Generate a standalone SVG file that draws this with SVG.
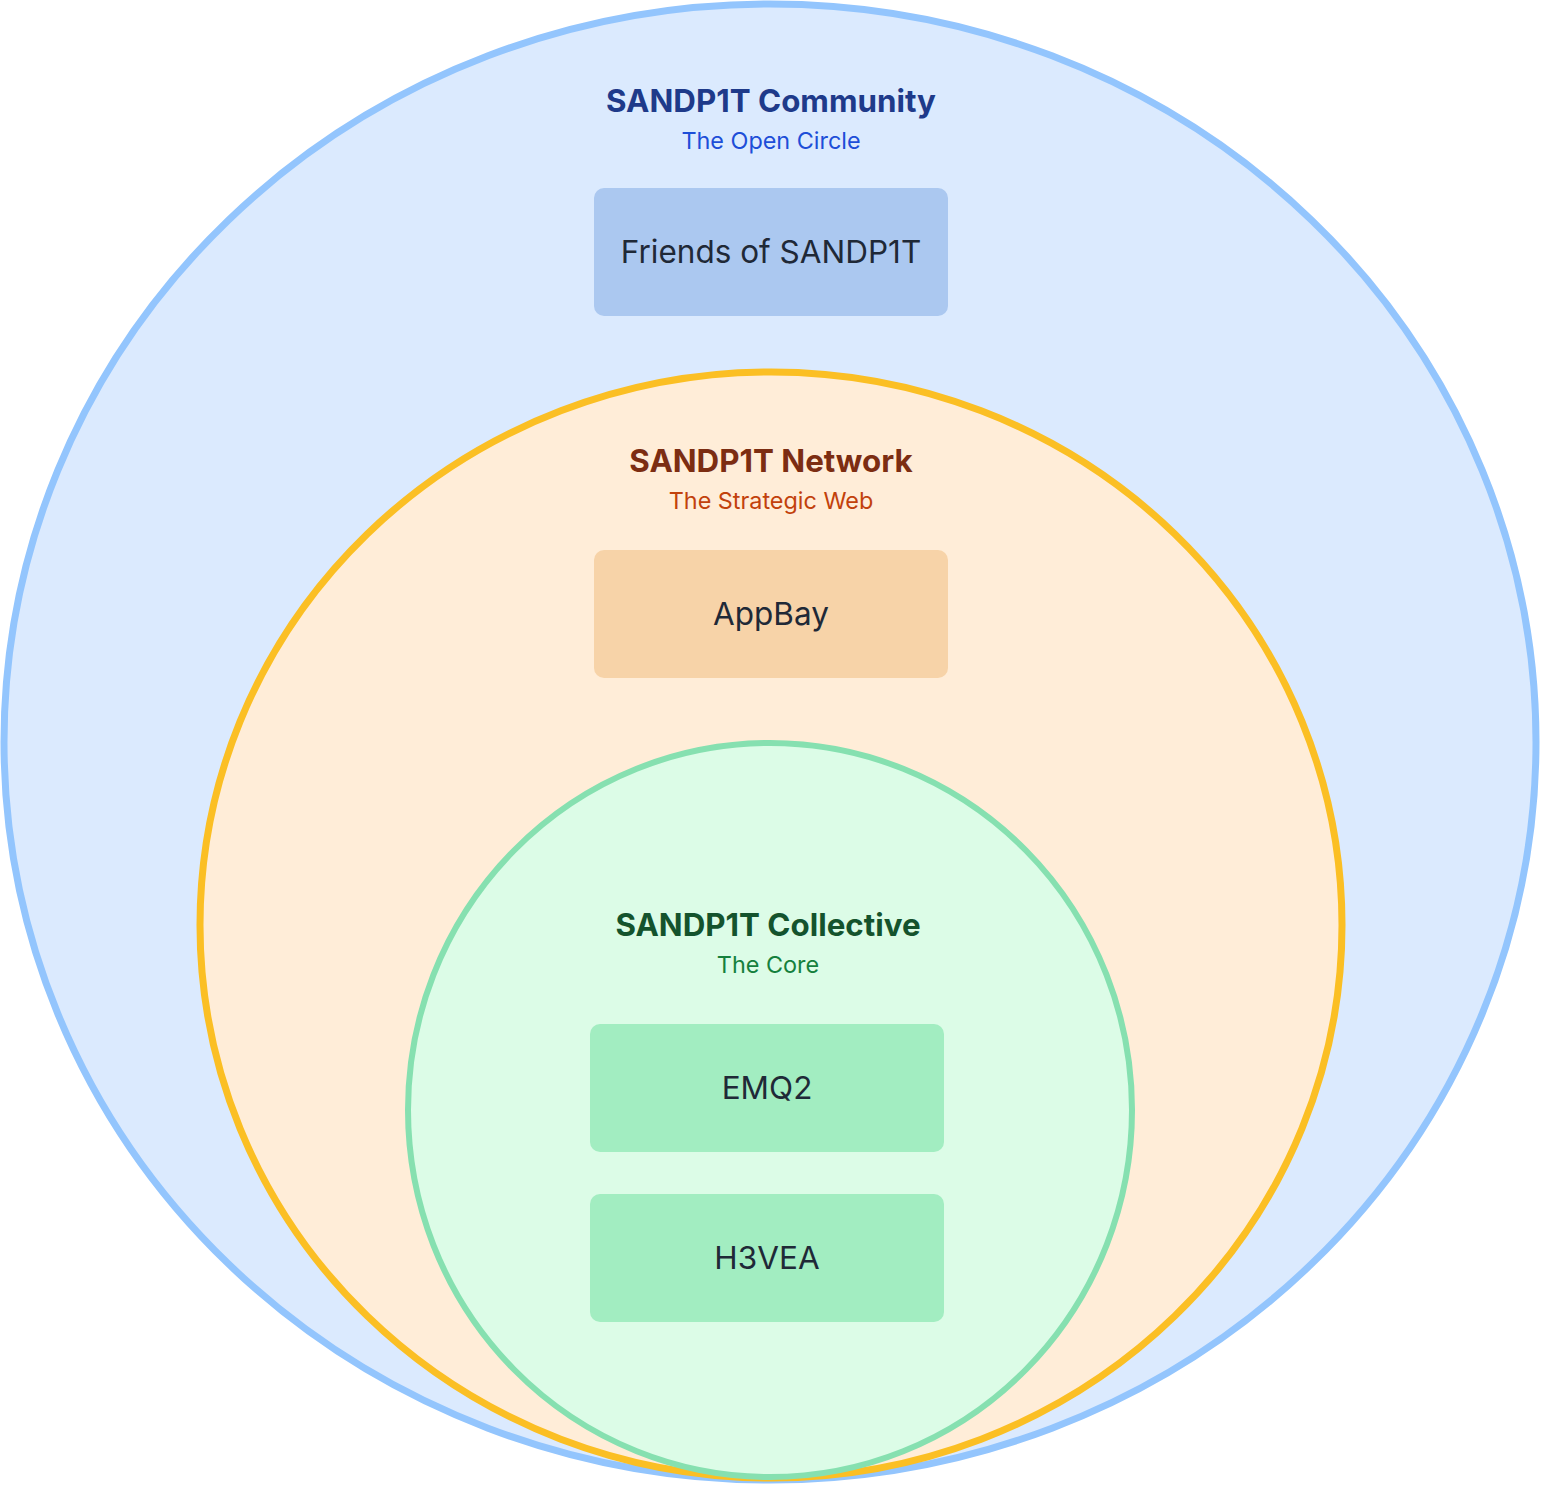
<svg xmlns="http://www.w3.org/2000/svg" width="1543" height="1487" viewBox="0 0 1543 1487">
<style>
.title{font-family:Inter,"Liberation Sans",sans-serif;font-weight:700;font-size:31.3px;text-anchor:middle}
.sub{font-family:Inter,"Liberation Sans",sans-serif;font-size:23.4px;text-anchor:middle}
.lbl{font-family:Inter,"Liberation Sans",sans-serif;font-size:31.5px;text-anchor:middle;fill:#1F2937}
</style>
<rect width="1543" height="1487" fill="#FFFFFF"/>
<g id="community">
<ellipse cx="770" cy="742" rx="766" ry="738" fill="#DBEAFE" stroke="#93C5FD" stroke-width="7"/>
<text class="title" x="771" y="112" fill="#1E3A8A">SANDP1T Community</text>
<text class="sub" x="771" y="149" fill="#1D4ED8">The Open Circle</text>
</g>
<g id="friends">
<rect x="594" y="188" width="354" height="128" rx="10" fill="#ABC8F0"/>
<text class="lbl" x="771" y="263">Friends of SANDP1T</text>
</g>
<g id="network">
<ellipse cx="771" cy="925" rx="571" ry="553" fill="#FFEDD8" stroke="#FBBF24" stroke-width="7"/>
<text class="title" x="771" y="472" fill="#7C2D12">SANDP1T Network</text>
<text class="sub" x="771" y="509" fill="#C2410C">The Strategic Web</text>
</g>
<g id="appbay">
<rect x="594" y="550" width="354" height="128" rx="10" fill="#F7D3A8"/>
<text class="lbl" x="771" y="625">AppBay</text>
</g>
<g id="collective">
<ellipse cx="770" cy="1110" rx="362" ry="367" fill="#DCFCE7" stroke="#86E0B0" stroke-width="6"/>
<text class="title" x="768" y="936" fill="#14532D">SANDP1T Collective</text>
<text class="sub" x="768" y="973" fill="#15803D">The Core</text>
</g>
<g id="emq2">
<rect x="590" y="1024" width="354" height="128" rx="10" fill="#A2EDC1"/>
<text class="lbl" x="767" y="1099">EMQ2</text>
</g>
<g id="h3vea">
<rect x="590" y="1194" width="354" height="128" rx="10" fill="#A2EDC1"/>
<text class="lbl" x="767" y="1269">H3VEA</text>
</g>
<g id="connectors"></g>
</svg>
